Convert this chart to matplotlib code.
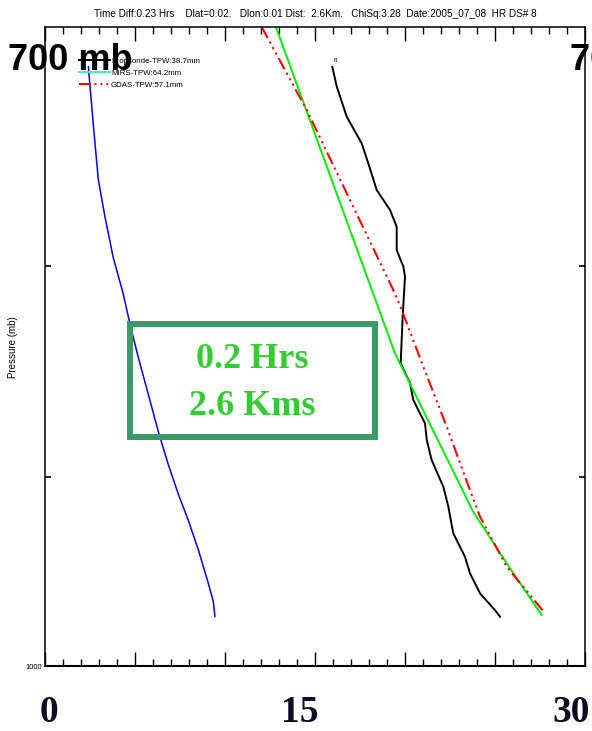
import matplotlib
matplotlib.use("Agg")
import matplotlib.pyplot as plt
from matplotlib.lines import Line2D
from matplotlib.patches import Rectangle
from matplotlib.ticker import MultipleLocator, NullLocator, FixedLocator, FixedFormatter

# profiles: x value vs pressure (mb)
drop_x = [15.96, 16.21, 16.76, 17.59, 17.96, 18.43, 19.17, 19.54, 19.54, 19.91, 20.0, 19.87, 19.76,
          20.28, 20.46, 21.11, 21.21, 21.48, 22.13, 22.41, 22.68, 23.33, 23.61, 24.17, 25.0, 25.28]
drop_p = [715.7, 723.7, 735.9, 746.9, 755.3, 766.7, 775.3, 782.6, 792.8, 800.2, 804.7, 822.9, 844.6,
          854.0, 862.0, 873.3, 881.5, 891.4, 904.8, 915.0, 928.6, 940.8, 949.6, 960.3, 969.3, 972.9]

mirs_x = [12.83, 19.44, 23.79, 25.65, 27.59]
mirs_p = [700.0, 839.8, 917.5, 944.3, 971.9]

gdas_x = [12.04, 14.54, 19.35, 19.82, 21.02, 22.32, 23.61, 24.17, 25.65, 27.78]
gdas_p = [700.0, 733.2, 810.7, 819.8, 846.2, 875.0, 906.5, 920.1, 946.1, 971.0]

blue_x = [2.41, 2.68, 2.96, 3.33, 3.79, 4.35, 4.72, 5.18, 5.74, 6.29, 6.85, 7.41, 7.96, 8.52, 9.07, 9.35, 9.44]
blue_p = [715.7, 738.9, 762.2, 778.2, 796.1, 812.6, 826.2, 841.7, 859.3, 877.2, 893.7, 908.6, 921.9,
          937.2, 954.8, 964.6, 972.7]

labels = ["Dropsonde-TPW:38.7mm", "MIRS-TPW:64.2mm", "GDAS-TPW:57.1mm"]
title = ("Time Diff:0.23 Hrs    Dlat=0.02.   Dlon:0.01 Dist:  2.6Km.   "
         "ChiSq:3.28  Date:2005_07_08  HR DS# 8")
y_ticks = [800, 900, 1000]
y_ticklabels = ["", "", "1000"]
bottom_labels = ["0", "15", "30"]

sans = ["Liberation Sans", "DejaVu Sans"]
gdas_dash = (6, 2, 1, 2, 1, 2, 1, 2)

fig = plt.figure(figsize=(5.92, 7.31), dpi=100)
ax = fig.add_axes([45 / 592, 1 - 666 / 731, 540 / 592, 639 / 731])

ax.plot(blue_x, blue_p, color="#0000ff", lw=1.1)
ax.plot(drop_x, drop_p, color="black", lw=1.4)
ax.plot(mirs_x, mirs_p, color="#00ee00", lw=1.4)
ax.plot(gdas_x, gdas_p, color="red", lw=1.5, dashes=gdas_dash)
ax.text(drop_x[0] + 0.1, drop_p[0] - 2, "8", fontsize=4.5, family=sans)

ax.set_yscale("log")
ax.set_ylim(1000, 700)
ax.set_xlim(0, 30)
ax.yaxis.set_minor_locator(NullLocator())
ax.yaxis.set_major_locator(FixedLocator(y_ticks))
ax.yaxis.set_major_formatter(FixedFormatter(y_ticklabels))
ax.xaxis.set_major_locator(MultipleLocator(5))
ax.xaxis.set_minor_locator(MultipleLocator(1))
ax.tick_params(axis="x", which="both", direction="in", top=True, bottom=True,
               labelbottom=False, width=1.0)
ax.tick_params(axis="x", which="major", length=10)
ax.tick_params(axis="x", which="minor", length=5)
ax.tick_params(axis="y", direction="in", left=True, right=True, length=4, width=1.2,
               labelsize=5.5, pad=2)
for lab in ax.get_yticklabels():
    lab.set_family(sans)
for sp in ax.spines.values():
    sp.set_linewidth(1.1)
ax.spines["bottom"].set_linewidth(1.5)

ax.set_title(title, fontsize=7.2, family=sans, pad=7)

handles = [Line2D([], [], color="black", lw=1.4),
           Line2D([], [], color="#44eeaa", lw=1.4),
           Line2D([], [], color="red", lw=1.4, dashes=gdas_dash)]
ax.legend(handles, labels, loc="upper left", bbox_to_anchor=(0.063, 0.953), frameon=False,
          prop={"family": sans, "size": 5.7}, handlelength=3.9, handletextpad=0.15,
          labelspacing=0.6, borderpad=0, borderaxespad=0)

fig.text(8 / 592, 1 - 70 / 731, "700 mb", fontsize=26, fontweight="bold",
         family="Liberation Sans", va="baseline", ha="left")
fig.text(570 / 592, 1 - 70 / 731, "700 mb", fontsize=26, fontweight="bold",
         family="Liberation Sans", va="baseline", ha="left")

fig.text(13 / 592, 1 - 347 / 731, "Pressure (mb)", rotation=90, fontsize=7,
         family="Liberation Sans", ha="center", va="center")

for lab, xc in zip(bottom_labels, [49, 300, 571]):
    fig.text(xc / 592, 1 - 713 / 731, lab, fontsize=27, fontweight="bold",
             family="Liberation Serif", color="#0c0c24", ha="center", va="center")

fig.add_artist(Rectangle((130 / 592, 1 - 437 / 731), 245 / 592, 113 / 731,
                         transform=fig.transFigure, fill=False, ec="#3a9a68", lw=4.3))
fig.text(252 / 592, 1 - 360 / 731, "0.2 Hrs", fontsize=26, fontweight="bold",
         family="Liberation Serif", color="#33cc33", ha="center", va="center")
fig.text(252 / 592, 1 - 407 / 731, "2.6 Kms", fontsize=26, fontweight="bold",
         family="Liberation Serif", color="#33cc33", ha="center", va="center")

fig.savefig("out.png", dpi=100)
